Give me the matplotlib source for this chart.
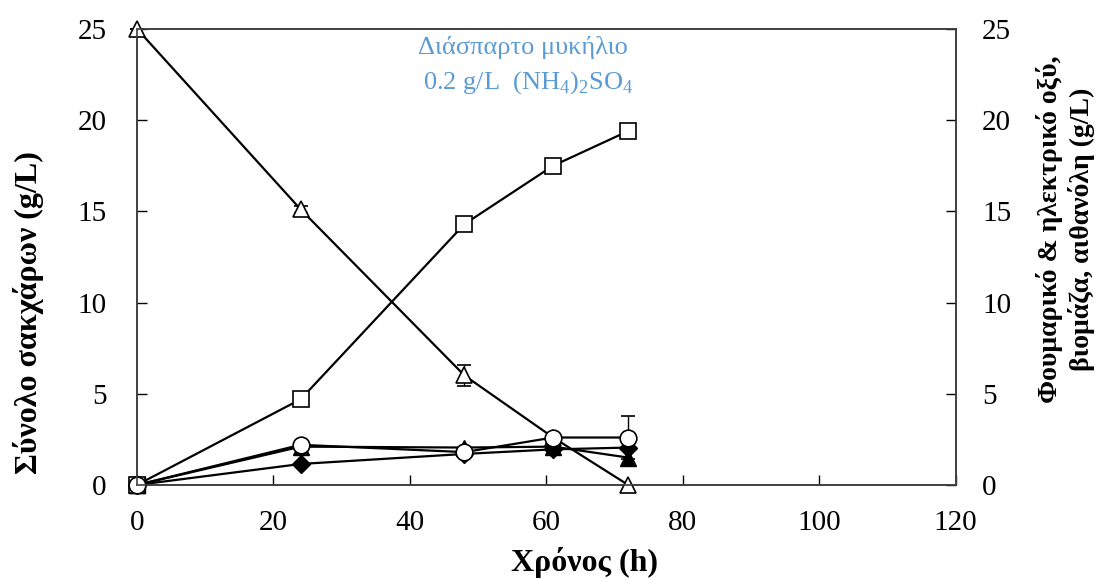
import numpy as np
import matplotlib.pyplot as plt

plt.rcParams['font.family'] = ['Liberation Serif', 'DejaVu Serif']
plt.rcParams['mathtext.fontset'] = 'custom'
plt.rcParams['mathtext.rm'] = 'Liberation Serif'

# time points (h)
time = [0, 24, 48, 61, 72]

# total sugars (left axis)
sugars = [25.0, 15.1, 6.0, 2.6, 0.0]
sugars_err = [0.0, 0.2, 0.6, 0.0, 0.0]

# products (right axis)
fumaric = [0.0, 4.7, 14.3, 17.5, 19.4]
fumaric_err = [0.0, 0.0, 0.4, 0.0, 0.4]
ethanol = [0.0, 2.2, 1.8, 2.6, 2.6]
ethanol_err = [0.0, 0.0, 0.0, 0.0, 1.2]
succinic = [0.0, 2.1, 2.05, 2.1, 1.5]
biomass = [0.0, 1.15, 1.7, 1.95, 2.05]

tick_size = 21
lw = 1.6
ms = 12

fig = plt.figure(figsize=(10.96, 5.78), dpi=100)
ax = fig.add_axes([0.125, 0.161, 0.747, 0.789])
ax2 = ax.twinx()

# sugar consumption
ax.errorbar(time[:4], sugars[:4], yerr=sugars_err[:4], color='k', lw=lw, marker='^',
            ms=ms, mfc='white', mec='k', mew=1.2, capsize=5, elinewidth=1, zorder=3,
            clip_on=False)
ax.plot(time[3:], sugars[3:], color='k', lw=lw, zorder=3)
ax.plot(time[4], sugars[4], marker='^', ms=ms, mfc='white', mec='k', mew=1.2, zorder=4,
        clip_on=False)

# products
ax2.errorbar(time, fumaric, yerr=fumaric_err, color='k', lw=lw, marker='s', ms=ms,
             mfc='white', mec='k', mew=1.2, capsize=5, elinewidth=1, clip_on=False)
ax2.errorbar(time, ethanol, yerr=ethanol_err, color='k', lw=lw, marker='o', ms=ms,
             mfc='white', mec='k', mew=1.2, capsize=5, elinewidth=1, clip_on=False)
ax2.plot(time, succinic, color='k', lw=lw, marker='^', ms=ms - 1, mfc='k', mec='k',
         clip_on=False)
ax2.plot(time, biomass, color='k', lw=lw, marker='D', ms=ms - 3, mfc='k', mec='k',
         clip_on=False)
ax2.plot(time[0], fumaric[0], marker='s', ms=ms, mfc='k', mec='k', clip_on=False)

for a in (ax, ax2):
    a.set_ylim(0, 25)
    a.set_yticks(np.arange(0, 26, 5))
    a.tick_params(direction='in', length=7, width=1, labelsize=tick_size, colors='k')
    for s in a.spines.values():
        s.set_color('#404040')
        s.set_linewidth(1.2)

ax.set_xlim(0, 120)
ax.set_xticks(np.arange(0, 121, 20))
ax.tick_params(axis='x', pad=18)
ax.tick_params(axis='y', pad=22)
ax2.tick_params(axis='y', pad=19)

ax.set_xlabel('Χρόνος (h)', fontsize=23, fontweight='bold')
ax.xaxis.set_label_coords(0.547, -0.136)
ax.set_ylabel('Σύνολο σακχάρων (g/L)', fontsize=23, fontweight='bold', va='center')
ax.yaxis.set_label_coords(-0.133, 0.377)
ax2.set_ylabel('Φουμαρικό & ηλεκτρικό οξύ,\nβιομάζα, αιθανόλη (g/L)', fontsize=20,
               fontweight='bold', rotation=90, va='center', linespacing=1.2)
ax2.yaxis.set_label_coords(1.134, 0.56)

ax.text(0.472, 0.985, 'Διάσπαρτο μυκήλιο', transform=ax.transAxes, ha='center',
        va='top', fontsize=19, color='#5B9BD5')
ax.text(0.478, 0.912, '0.2 g/L  (NH$_4$)$_2$SO$_4$', transform=ax.transAxes, ha='center',
        va='top', fontsize=19, color='#5B9BD5')

fig.savefig('out.png', dpi=100)
